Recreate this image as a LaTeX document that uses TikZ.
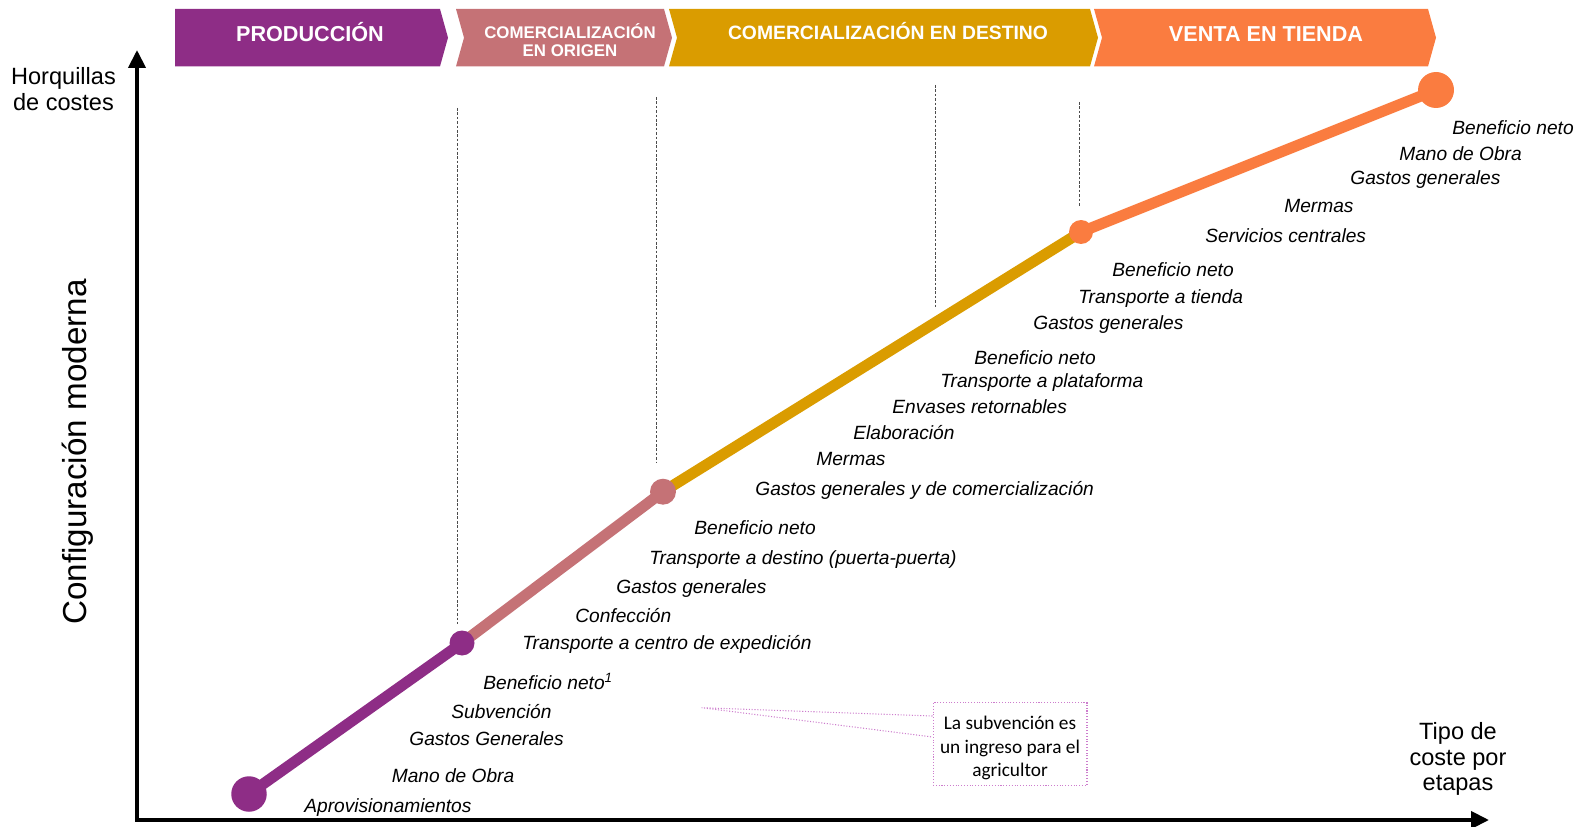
\documentclass[tikz,border=0pt]{standalone}
\usepackage{fontspec}
\setmainfont{Liberation Sans}
\newfontfamily\notefont{Carlito}
\usetikzlibrary{arrows.meta}
\definecolor{prodc}{RGB}{142,45,134}
\definecolor{origc}{RGB}{197,114,118}
\definecolor{destc}{RGB}{218,156,0}
\definecolor{tiendac}{RGB}{250,124,64}
\definecolor{notec}{RGB}{205,125,205}
\newcommand{\stagebox}[4]{\fill[#1] (#2,9)--(#3,9)--++(8,28.7)--(#3,66.4)--(#2,66.4)--++(#4,-28.7)--cycle;}
\newcommand{\costlabel}[4]{\node[cost] (#1) at (#3,#4) {#2};}
\newcommand{\guideline}[3]{\draw[guide] (#1,#2)--(#1,#3);}
\tikzset{
  cost/.style={anchor=base west, inner sep=0pt, font=\fontsize{10.9}{13}\selectfont\itshape},
  stage/.style={anchor=base, text=white, inner sep=0pt, align=center},
  axislabel/.style={align=center, inner sep=0pt, font=\fontsize{13.4}{14.4}\selectfont},
  axis/.style={line width=2.3pt, -{Triangle[length=0.36cm,width=0.34cm]}},
  segment/.style={line width=0.22cm},
  dot/.style={circle, inner sep=0pt},
  guide/.style={black!70, line width=0.5pt, dash pattern=on 1.5pt off 1pt},
  callout/.style={notec, line width=0.6pt, densely dotted},
  notebox/.style={draw=notec, densely dotted, line width=0.6pt, minimum width=3.08cm, minimum height=1.65cm, inner sep=0pt},
  notetext/.style={align=center, inner sep=0pt, font=\notefont\fontsize{11}{13.4}\selectfont}
}

\begin{document}
\begin{tikzpicture}[x=0.02cm, y=-0.02cm]
\useasboundingbox (0,0) rectangle (1578,827);
\stagebox{prodc}{175}{440}{0}
\stagebox{origc}{456}{664}{8}
\stagebox{destc}{669}{1090}{8}
\stagebox{tiendac}{1094}{1428}{8}
\node[stage, font=\bfseries\fontsize{12.3}{14}\selectfont] (prod) at (310,42) {PRODUCCIÓN};
\node[stage, font=\bfseries\fontsize{9.6}{10.5}\selectfont] (orig) at (570,56.7) {COMERCIALIZACIÓN\\EN ORIGEN};
\node[stage, font=\bfseries\fontsize{11}{13}\selectfont] (dest) at (888,40) {COMERCIALIZACIÓN EN DESTINO};
\node[stage, font=\bfseries\fontsize{12.3}{14}\selectfont] (tienda) at (1266,41.5) {VENTA EN TIENDA};
\guideline{457}{108}{624}\guideline{656}{97}{463}\guideline{935}{85}{309}\guideline{1079}{102}{206}
\coordinate (origin) at (137,820);
\coordinate (corner) at (135,820);
\coordinate (ytop) at (137,50);
\coordinate (xend) at (1489,820);
\draw[axis] (origin) -- (ytop);
\draw[axis] (corner) -- (xend);
\node[axislabel] (ylab) at (63.5,89) {Horquillas\\de costes};
\node[axislabel] (xlab) at (1458,759) {Tipo de\\coste por\\etapas};
\node[rotate=90, inner sep=0pt, font=\fontsize{18.9}{22}\selectfont] (modo) at (77.5,452) {Configuración moderna};
\coordinate (p0) at (249,794);
\coordinate (p1) at (462,643);
\coordinate (p2) at (663,491.7);
\coordinate (p3) at (1081,232);
\coordinate (p4) at (1436,90);
\draw[segment, prodc] (p0) -- (p1);
\draw[segment, origc] (p1) -- (p2);
\draw[segment, destc] (p2) -- (p3);
\draw[segment, tiendac] (p3) -- (p4);
\node[dot, fill=prodc, minimum size=0.71cm] (d0) at (p0) {};
\node[dot, fill=prodc, minimum size=0.5cm] (d1) at (p1) {};
\node[dot, fill=origc, minimum size=0.52cm] (d2) at (p2) {};
\node[dot, fill=tiendac, minimum size=0.48cm] (d3) at (p3) {};
\node[dot, fill=tiendac, minimum size=0.72cm] (d4) at (p4) {};
\costlabel{t1}{Beneficio neto}{1452}{135}
\costlabel{t2}{Mano de Obra}{1399}{161}
\costlabel{t3}{Gastos generales}{1350}{185}
\costlabel{t4}{Mermas}{1284}{213}
\costlabel{t5}{Servicios centrales}{1205}{242.5}
\costlabel{e1}{Beneficio neto}{1112}{277}
\costlabel{e2}{Transporte a tienda}{1078}{304}
\costlabel{e3}{Gastos generales}{1033}{330}
\costlabel{e4}{Beneficio neto}{974}{364}
\costlabel{e5}{Transporte a plataforma}{940}{387}
\costlabel{e6}{Envases retornables}{892}{413.6}
\costlabel{e7}{Elaboración}{853}{439}
\costlabel{e8}{Mermas}{816}{465}
\costlabel{e9}{Gastos generales y de comercialización}{755}{495}
\costlabel{o1}{Beneficio neto}{694}{534}
\costlabel{o2}{Transporte a destino (puerta-puerta)}{649}{564.5}
\costlabel{o3}{Gastos generales}{616}{593}
\costlabel{o4}{Confección}{575}{622}
\costlabel{o5}{Transporte a centro de expedición}{522}{649}
\costlabel{a1}{Beneficio neto\textsuperscript{1}}{483}{689}
\costlabel{a2}{Subvención}{451}{718.5}
\costlabel{a3}{Gastos Generales}{409}{745}
\costlabel{a4}{Mano de Obra}{391.5}{782}
\costlabel{a5}{Aprovisionamientos}{304}{812}
\node[notebox] (nota) at (1010,744) {};
\node[notetext] (notatxt) at (1010,748) {La subvención es\\un ingreso para el\\agricultor};
\coordinate (notatip) at (701.7,707.7);
\draw[callout] ([yshift=0.56cm]nota.west) -- (notatip) -- ([yshift=0.14cm]nota.west);
\end{tikzpicture}
\end{document}
